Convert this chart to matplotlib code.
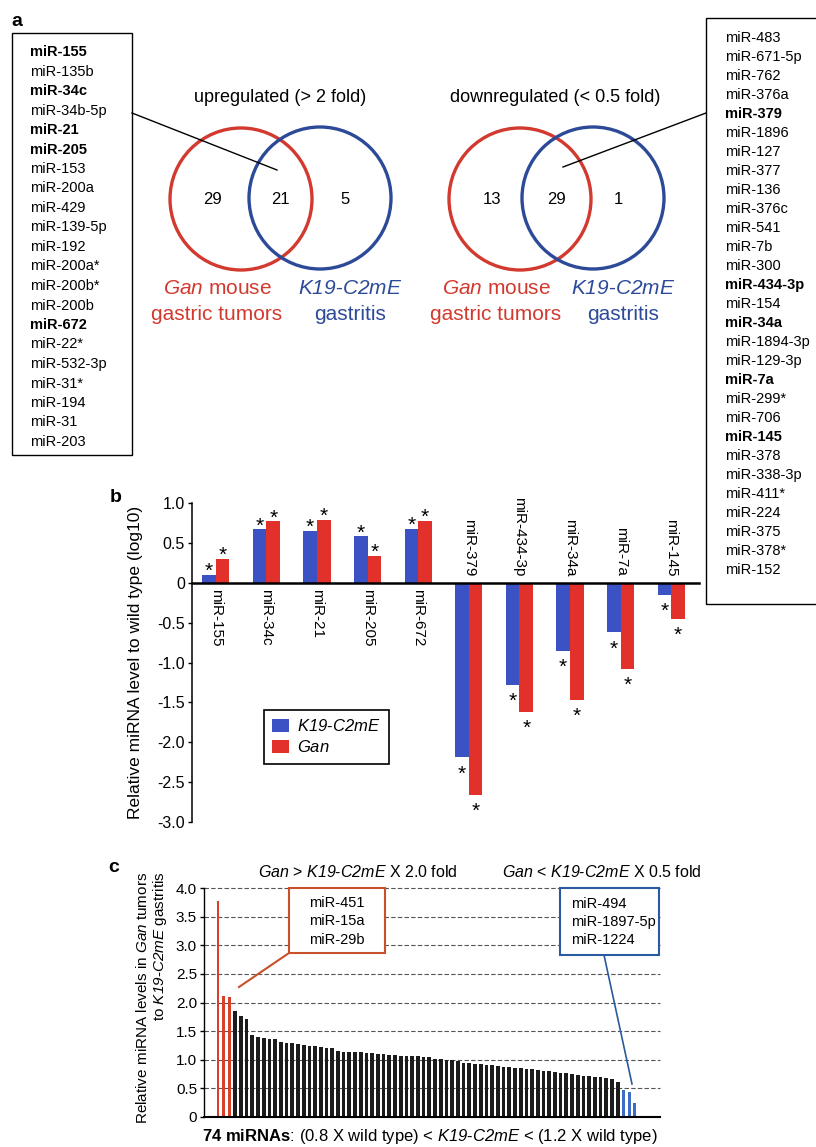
import numpy as np
import matplotlib
matplotlib.use('Agg')
import matplotlib.pyplot as plt
from matplotlib.patches import Circle, Rectangle

plt.rcParams['font.family'] = 'Liberation Sans'
plt.rcParams['mathtext.fontset'] = 'custom'
plt.rcParams['mathtext.rm'] = 'Liberation Sans'
plt.rcParams['mathtext.it'] = 'Liberation Sans:italic'
# sf slot used as italic so digits stay slanted too
plt.rcParams['mathtext.sf'] = 'Liberation Sans:italic'
plt.rcParams['mathtext.bf'] = 'Liberation Sans:bold'

# panel a: venn counts (Gan only, both, K19-C2mE only)
up_counts = [29, 21, 5]
down_counts = [13, 29, 1]
up_list = ['miR-155', 'miR-135b', 'miR-34c', 'miR-34b-5p', 'miR-21', 'miR-205', 'miR-153',
           'miR-200a', 'miR-429', 'miR-139-5p', 'miR-192', 'miR-200a*', 'miR-200b*', 'miR-200b',
           'miR-672', 'miR-22*', 'miR-532-3p', 'miR-31*', 'miR-194', 'miR-31', 'miR-203']
up_bold = ['miR-155', 'miR-34c', 'miR-21', 'miR-205', 'miR-672']
down_list = ['miR-483', 'miR-671-5p', 'miR-762', 'miR-376a', 'miR-379', 'miR-1896', 'miR-127',
             'miR-377', 'miR-136', 'miR-376c', 'miR-541', 'miR-7b', 'miR-300', 'miR-434-3p',
             'miR-154', 'miR-34a', 'miR-1894-3p', 'miR-129-3p', 'miR-7a', 'miR-299*', 'miR-706',
             'miR-145', 'miR-378', 'miR-338-3p', 'miR-411*', 'miR-224', 'miR-375', 'miR-378*',
             'miR-152']
down_bold = ['miR-379', 'miR-434-3p', 'miR-34a', 'miR-7a', 'miR-145']

# panel b: log10 level relative to wild type
mir_b = ['miR-155', 'miR-34c', 'miR-21', 'miR-205', 'miR-672',
         'miR-379', 'miR-434-3p', 'miR-34a', 'miR-7a', 'miR-145']
k19_b = [0.10, 0.67, 0.65, 0.58, 0.68, -2.19, -1.28, -0.85, -0.62, -0.15]
gan_b = [0.30, 0.77, 0.79, 0.34, 0.78, -2.66, -1.62, -1.47, -1.08, -0.45]

# panel c: Gan / K19-C2mE ratio, 74 miRNAs sorted
red_c = [3.78, 2.12, 2.09]
black_c = [1.85, 1.76, 1.71, 1.43, 1.40, 1.38, 1.37, 1.36, 1.31, 1.30, 1.29, 1.28,
           1.25, 1.24, 1.24, 1.22, 1.21, 1.20, 1.16, 1.14, 1.14, 1.13, 1.13, 1.12,
           1.11, 1.10, 1.10, 1.09, 1.08, 1.07, 1.07, 1.06, 1.06, 1.05, 1.04, 1.02,
           1.01, 1.00, 0.99, 0.97, 0.95, 0.94, 0.93, 0.92, 0.91, 0.90, 0.89, 0.88,
           0.87, 0.86, 0.85, 0.84, 0.83, 0.82, 0.81, 0.80, 0.78, 0.77, 0.76, 0.75,
           0.73, 0.72, 0.71, 0.70, 0.69, 0.68, 0.66, 0.62]
blue_c = [0.47, 0.44, 0.24]
gan_hi = ['miR-451', 'miR-15a', 'miR-29b']
gan_lo = ['miR-494', 'miR-1897-5p', 'miR-1224']

K19 = r'$\mathsf{K19}$-$\mathsf{C2mE}$'
GAN = r'$\mathsf{Gan}$'
RED = '#d2392f'
BLUE = '#2c4a98'

W, H = 816, 1147
fig = plt.figure(figsize=(W / 100, H / 100), dpi=100)

# ---- panel b ----
axb = fig.add_axes([192 / W, 1 - 822 / H, 507 / W, 319 / H])
x = np.arange(len(mir_b))
w = 0.27
axb.bar(x - w / 2, k19_b, w, color='#3a52c4', label=K19)
axb.bar(x + w / 2, gan_b, w, color='#e2302a', label=GAN)
for xs, vals in [(x - w / 2, k19_b), (x + w / 2, gan_b)]:
    for xi, v in zip(xs, vals):
        if v > 0:
            axb.annotate('*', (xi, v), xytext=(0, -1.5), textcoords='offset points',
                         ha='center', va='baseline', fontsize=15)
        else:
            axb.annotate('*', (xi, v), xytext=(0, -16), textcoords='offset points',
                         ha='center', va='baseline', fontsize=15)
for xi, name, v in zip(x, mir_b, k19_b):
    if v > 0:
        axb.text(xi, -0.08, name, rotation=-90, ha='center', va='top', fontsize=11)
    else:
        axb.text(xi, 0.08, name, rotation=-90, ha='center', va='bottom', fontsize=11)
axb.set_xlim(-0.47, 9.55)
axb.set_ylim(-3.0, 1.0)
yt = np.arange(-3.0, 1.01, 0.5)
axb.set_yticks(yt)
axb.set_yticklabels(['0' if abs(t) < 1e-9 else ('%.1f' % t) for t in yt], fontsize=11.5)
axb.spines['top'].set_visible(False)
axb.spines['right'].set_visible(False)
axb.spines['bottom'].set_position(('data', 0))
axb.spines['bottom'].set_linewidth(1.8)
axb.spines['left'].set_linewidth(1.1)
axb.tick_params(axis='x', bottom=False, labelbottom=False)
axb.tick_params(axis='y', length=3, width=1, pad=2)
axb.set_ylabel('Relative miRNA level to wild type (log10)', fontsize=12.5)
axb.yaxis.set_label_coords(-0.097, 0.5)
leg = axb.legend(loc='upper left', bbox_to_anchor=(0.142, 0.351), borderaxespad=0,
                 fontsize=12, fancybox=False, edgecolor='black', framealpha=1,
                 handlelength=1.0, handleheight=0.8, handletextpad=0.5,
                 labelspacing=0.3, borderpad=0.5)
leg.get_frame().set_linewidth(1.2)

# ---- panel c ----
axc = fig.add_axes([204 / W, 1 - 1117 / H, 456 / W, 229 / H])
vals_c = red_c + black_c + blue_c
colors_c = ['#d8402a'] * len(red_c) + ['#1c1c1c'] * len(black_c) + ['#3b6cc6'] * len(blue_c)
widths_c = [0.45] * len(red_c) + [0.65] * len(black_c) + [0.5] * len(blue_c)
axc.bar(np.arange(len(vals_c)), vals_c, widths_c, color=colors_c, zorder=2)
axc.set_xlim(-2.45, 77.4)
axc.set_ylim(0, 4.0)
yc = np.arange(0, 4.01, 0.5)
axc.set_yticks(yc)
axc.set_yticklabels(['0' if t == 0 else ('%.1f' % t) for t in yc], fontsize=11)
for t in yc[1:]:
    axc.axhline(t, color='#555555', lw=0.8, ls=(0, (4, 2)), zorder=1, clip_on=False)
axc.spines['top'].set_visible(False)
axc.spines['right'].set_visible(False)
axc.spines['bottom'].set_linewidth(1.5)
axc.spines['left'].set_linewidth(1.0)
axc.tick_params(axis='x', bottom=False, labelbottom=False)
axc.tick_params(axis='y', length=3, width=1, pad=2)
axc.set_ylabel('Relative miRNA levels in ' + GAN + ' tumors\nto ' + K19 + ' gastritis',
               fontsize=11, multialignment='right', linespacing=1.1)
axc.yaxis.set_label_coords(-0.077, 0.52)

# ---- overlay for panel a and annotations ----
ov = fig.add_axes([0, 0, 1, 1])
ov.set_xlim(0, W)
ov.set_ylim(H, 0)
ov.axis('off')

ov.text(17, 22, 'a', fontsize=14, fontweight='bold', ha='center', va='center')
ov.text(116, 497, 'b', fontsize=14, fontweight='bold', ha='center', va='center')
ov.text(114, 867, 'c', fontsize=14, fontweight='bold', ha='center', va='center')

# lists
ov.add_patch(Rectangle((12, 33), 120, 422, fill=False, ec='black', lw=1))
for i, name in enumerate(up_list):
    ov.text(30, 52 + 19.5 * i, name, fontsize=10.5, va='center',
            fontweight='bold' if name in up_bold else 'normal')
ov.add_patch(Rectangle((706, 18), 130, 586, fill=False, ec='black', lw=1))
for i, name in enumerate(down_list):
    ov.text(725, 38.5 + 18.97 * i, name, fontsize=10.5, va='center',
            fontweight='bold' if name in down_bold else 'normal')

# venns
venns = [(up_counts, 'upregulated (> 2 fold)', 280, 241, 320),
         (down_counts, 'downregulated (< 0.5 fold)', 555, 520, 593)]
for counts, title, tx, rx, bx in venns:
    ov.text(tx, 98, title, fontsize=13, ha='center', va='center')
    ov.add_patch(Circle((rx, 199), 71, fill=False, ec=RED, lw=2.4))
    ov.add_patch(Circle((bx, 198), 71, fill=False, ec=BLUE, lw=2.4))
    mid = (rx + bx) / 2
    for cx, n in zip([rx - 28, mid, bx + 25], counts):
        ov.text(cx, 200, str(n), fontsize=12, ha='center', va='center')
    ov.text(rx - 24, 289, GAN + ' mouse', fontsize=15, color=RED, ha='center', va='center')
    ov.text(rx - 24, 315, 'gastric tumors', fontsize=15, color=RED, ha='center', va='center')
    ov.text(bx + 30, 289, K19, fontsize=15, color=BLUE, ha='center', va='center')
    ov.text(bx + 30, 315, 'gastritis', fontsize=15, color=BLUE, ha='center', va='center')
ov.plot([132, 277], [113, 170], color='black', lw=1)
ov.plot([706, 563], [113, 167], color='black', lw=1)

# panel c headers and callouts
ov.text(358, 872, GAN + ' > ' + K19 + ' X 2.0 fold', fontsize=11.5, ha='center', va='center')
ov.text(602, 872, GAN + ' < ' + K19 + ' X 0.5 fold', fontsize=11.5, ha='center', va='center')
ov.add_patch(Rectangle((289, 888), 96, 65, fc='white', ec='#c8502a', lw=1.5))
for i, name in enumerate(gan_hi):
    ov.text(309, 903 + 18.3 * i, name, fontsize=10.5, va='center')
ov.plot([289, 239], [953, 987], color='#c8502a', lw=1.5)
ov.add_patch(Rectangle((560, 888), 99, 67, fc='white', ec='#2a5aa0', lw=1.5))
for i, name in enumerate(gan_lo):
    ov.text(571, 904 + 18 * i, name, fontsize=10.5, va='center')
ov.plot([604, 632], [955, 1084], color='#2a5aa0', lw=1.2)
ov.text(430, 1137, r'$\mathbf{74\ miRNAs}$: (0.8 X wild type) < ' + K19 + ' < (1.2 X wild type)',
        fontsize=12, ha='center', va='center')

fig.savefig('out.png', dpi=100)
